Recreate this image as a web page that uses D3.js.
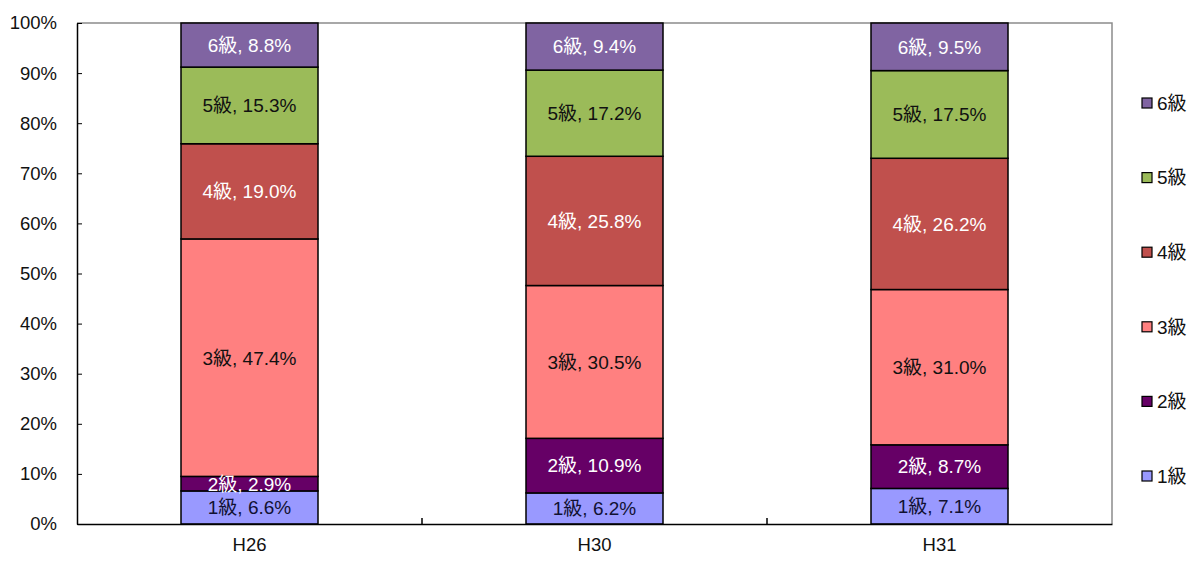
<!DOCTYPE html>
<html><head><meta charset="utf-8">
<script src="https://cdn.jsdelivr.net/npm/d3@7"></script>
<style>body{margin:0;background:#fff;}svg{display:block;font-family:"Liberation Sans","Noto Sans CJK JP",sans-serif;}</style>
</head><body>
<svg id="c" width="1195" height="561"></svg>
<script>
const categories = ["H26", "H30", "H31"];
const grades = ["1級", "2級", "3級", "4級", "5級", "6級"];
const g1 = [6.6, 6.2, 7.1];
const g2 = [2.9, 10.9, 8.7];
const g3 = [47.4, 30.5, 31.0];
const g4 = [19.0, 25.8, 26.2];
const g5 = [15.3, 17.2, 17.5];
const g6 = [8.8, 9.4, 9.5];
const yTicks = [0, 10, 20, 30, 40, 50, 60, 70, 80, 90, 100];
const colors = ["#9999FF", "#660066", "#FF8080", "#C0504D", "#9BBB59", "#8064A2"];
const textColors = ["#111133", "#ffffff", "#111111", "#ffffff", "#111111", "#ffffff"];

const series = [g1, g2, g3, g4, g5, g6];
const rows = categories.map((c, i) => {
  const r = {cat: c};
  grades.forEach((g, k) => r[g] = series[k][i]);
  return r;
});
const stacked = d3.stack().keys(grades)(rows);

const svg = d3.select("#c");
const L = 77, R = 1112, T = 23, B = 524;
const x = d3.scaleBand().domain(categories).range([L, R]);
const y = d3.scaleLinear().domain([0, 100]).range([B, T]);
const barW = 137;

svg.append("path").attr("d", `M${L},${T}H${R}V${B}`).attr("fill", "none").attr("stroke", "#8c8c8c").attr("stroke-width", 1.5);

stacked.forEach((s, k) => {
  const g = svg.append("g");
  s.forEach((d, i) => {
    const cx = x(categories[i]) + x.bandwidth() / 2;
    g.append("rect")
      .attr("x", cx - barW / 2).attr("y", y(d[1]))
      .attr("width", barW).attr("height", y(d[0]) - y(d[1]))
      .attr("fill", colors[k]).attr("stroke", "#000").attr("stroke-width", 1.5);
  });
});
stacked.forEach((s, k) => {
  s.forEach((d, i) => {
    const cx = x(categories[i]) + x.bandwidth() / 2;
    svg.append("text")
      .attr("x", cx).attr("y", (y(d[0]) + y(d[1])) / 2)
      .attr("dy", "0.36em").attr("text-anchor", "middle")
      .attr("font-size", 19).attr("fill", textColors[k])
      .text(`${grades[k]}, ${series[k][i].toFixed(1)}%`);
  });
});

const ya = svg.append("g").attr("transform", `translate(${L},0)`)
  .call(d3.axisLeft(y).tickValues(yTicks).tickSizeInner(-5).tickSizeOuter(0).tickPadding(20).tickFormat(d => d + "%"));
ya.select(".domain").attr("stroke", "#000").attr("stroke-width", 1.5);
ya.selectAll(".tick line").attr("stroke", "#000");
ya.selectAll("text").attr("font-size", 18.5).attr("fill", "#111");

const xa = svg.append("g").attr("transform", `translate(0,${B})`)
  .call(d3.axisBottom(x).tickSize(0).tickPadding(14));
xa.select(".domain").attr("stroke", "#000").attr("stroke-width", 1.5);
xa.selectAll("text").attr("font-size", 18.5).attr("fill", "#111").attr("dy", "0.71em");
categories.slice(1).forEach(c => {
  svg.append("line").attr("x1", x(c)).attr("x2", x(c)).attr("y1", B - 6).attr("y2", B)
    .attr("stroke", "#000").attr("stroke-width", 1.5);
});

const legY = d3.scalePoint().domain(grades.slice().reverse()).range([103, 476]);
grades.forEach((g, k) => {
  const yy = legY(g);
  svg.append("rect").attr("x", 1142).attr("y", yy - 5).attr("width", 10).attr("height", 10)
    .attr("fill", colors[k]).attr("stroke", "#000").attr("stroke-width", 1.2);
  svg.append("text").attr("x", 1157).attr("y", yy).attr("dy", "0.36em")
    .attr("font-size", 19).attr("fill", "#111").text(g);
});
</script>
</body></html>
